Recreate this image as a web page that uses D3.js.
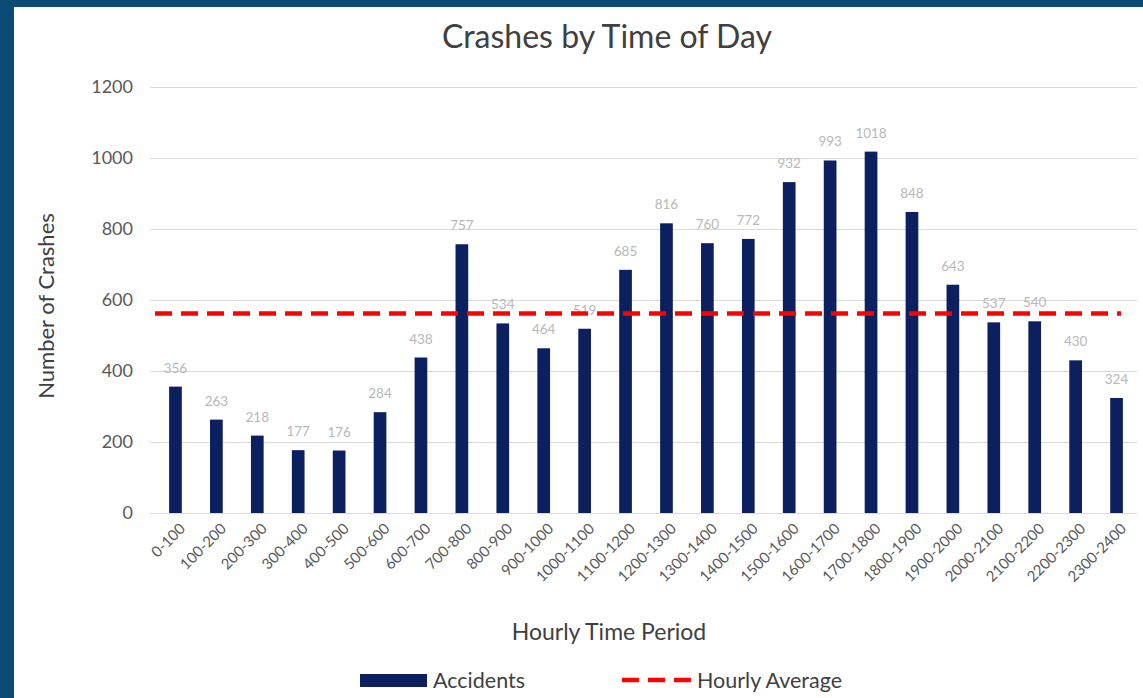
<!DOCTYPE html>
<html>
<head>
<meta charset="utf-8">
<script src="https://cdn.jsdelivr.net/npm/d3@7/dist/d3.min.js"></script>
<style>
  html, body { margin: 0; padding: 0; background: #ffffff; }
  svg { display: block; font-family: Lato, "Open Sans", sans-serif; }
</style>
</head>
<body>
<svg id="chart" width="1143" height="698"></svg>
<script>
// Hourly periods and crash counts
const periods = ["0-100","100-200","200-300","300-400","400-500","500-600","600-700","700-800",
  "800-900","900-1000","1000-1100","1100-1200","1200-1300","1300-1400","1400-1500","1500-1600",
  "1600-1700","1700-1800","1800-1900","1900-2000","2000-2100","2100-2200","2200-2300","2300-2400"];
const accidents = [356, 263, 218, 177, 176, 284, 438, 757, 534, 464, 519, 685,
  816, 760, 772, 932, 993, 1018, 848, 643, 537, 540, 430, 324];
const hourlyAverage = [562];
const yTicks = [0, 200, 400, 600, 800, 1000, 1200];

const svg = d3.select("#chart");
const W = 1143, H = 698;
const FONT = "Lato, 'Open Sans', sans-serif";

// Frame: dark blue border on left and top
svg.append("rect").attr("x", 0).attr("y", 0).attr("width", W).attr("height", H).attr("fill", "#0b4a74");
svg.append("rect").attr("x", 14).attr("y", 7).attr("width", W - 14).attr("height", H - 7).attr("fill", "#ffffff");

const plot = { left: 155, right: 1137, top: 87, bottom: 513 };

const x = d3.scaleBand().domain(periods).range([plot.left, plot.right]).paddingInner(0.69).paddingOuter(0.345);
const y = d3.scaleLinear().domain([0, 1200]).range([plot.bottom, plot.top]);

// Gridlines
svg.append("g").selectAll("line").data(yTicks).join("line")
  .attr("x1", plot.left - 5).attr("x2", plot.right)
  .attr("y1", d => y(d) + 0.5).attr("y2", d => y(d) + 0.5)
  .attr("stroke", "#d9d9d9").attr("stroke-width", 1.2);

// Y axis labels
const yAxis = d3.axisLeft(y).tickValues(yTicks).tickFormat(d3.format("d")).tickSize(0).tickPadding(0);
const gy = svg.append("g").attr("transform", `translate(${plot.left - 22},0)`).call(yAxis);
gy.select(".domain").remove();
gy.selectAll("text").attr("fill", "#595959").style("font-size", "18px").style("font-family", FONT);

// Bars
svg.append("g").selectAll("rect").data(accidents).join("rect")
  .attr("x", (d, i) => x(periods[i]))
  .attr("y", d => y(d))
  .attr("width", x.bandwidth())
  .attr("height", d => y(0) - y(d))
  .attr("fill", "#0c1f5e");

// Data labels
svg.append("g").selectAll("text").data(accidents).join("text")
  .attr("x", (d, i) => x(periods[i]) + x.bandwidth() / 2)
  .attr("y", d => y(d) - 14)
  .attr("text-anchor", "middle")
  .attr("fill", "#b8b8b8")
  .style("font-size", "13.5px")
  .text(d => d);

// X axis
const xAxis = d3.axisBottom(x).tickSize(0).tickPadding(0);
const gx = svg.append("g").attr("transform", `translate(0,${plot.bottom})`).call(xAxis);
gx.select(".domain").remove();
gx.selectAll("text")
  .attr("fill", "#595959")
  .style("font-size", "15px")
  .style("font-family", FONT)
  .attr("text-anchor", "end")
  .attr("dy", "0.35em")
  .attr("transform", "translate(7,13) rotate(-45)");

// Hourly average line
svg.append("g").selectAll("line").data(hourlyAverage).join("line")
  .attr("x1", plot.left).attr("x2", 1121)
  .attr("y1", d => y(d)).attr("y2", d => y(d))
  .attr("stroke", "#ff0000").attr("stroke-width", 4.5)
  .attr("stroke-dasharray", "17 9");

// Title and axis titles
svg.append("text").attr("x", 607).attr("y", 48).attr("text-anchor", "middle")
  .attr("fill", "#404040").style("font-size", "32px").text("Crashes by Time of Day");
svg.append("text").attr("transform", "translate(54,306) rotate(-90)").attr("text-anchor", "middle")
  .attr("fill", "#404040").style("font-size", "22px").text("Number of Crashes");
svg.append("text").attr("x", 609).attr("y", 640).attr("text-anchor", "middle")
  .attr("fill", "#404040").style("font-size", "23px").text("Hourly Time Period");

// Legend
const leg = svg.append("g");
leg.append("rect").attr("x", 360).attr("y", 674).attr("width", 67).attr("height", 13).attr("fill", "#0c1f5e");
leg.append("text").attr("x", 433).attr("y", 688).attr("fill", "#404040").style("font-size", "21.5px").text("Accidents");
leg.append("line").attr("x1", 622).attr("x2", 691).attr("y1", 680).attr("y2", 680)
  .attr("stroke", "#ff0000").attr("stroke-width", 4.5).attr("stroke-dasharray", "17 9");
leg.append("text").attr("x", 697).attr("y", 688).attr("fill", "#404040").style("font-size", "21.5px").text("Hourly Average");
</script>
</body>
</html>
